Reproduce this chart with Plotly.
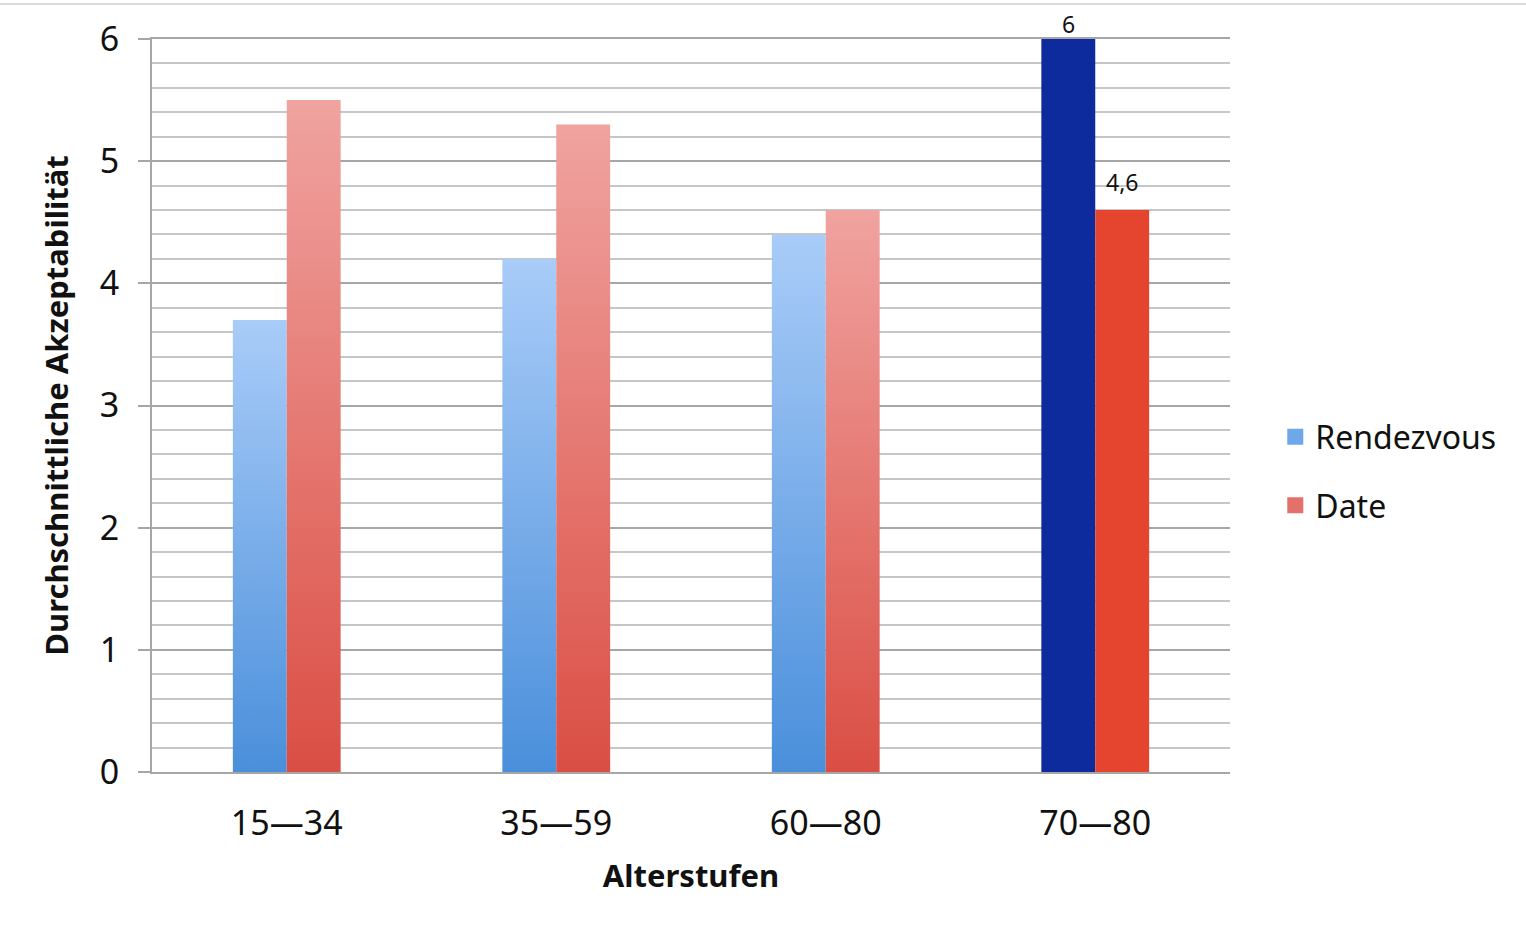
import plotly.graph_objects as go

# Mean acceptability per age group
age_groups = ["15—34", "35—59", "60—80", "70—80"]
rendezvous = [3.7, 4.2, 4.4, 6.0]
date = [5.5, 5.3, 4.6, 4.6]
rendezvous_labels = ["", "", "", "6"]
date_labels = ["", "", "", "4,6"]
y_ticks = [0, 1, 2, 3, 4, 5, 6]

# Last group is drawn in solid, saturated colours
solid_group = [False, False, False, True]

BAR_W = 0.2
FONT = "Noto Sans"
GRID = "#a6a6a6"

series = [
    dict(name="Rendezvous", values=rendezvous, labels=rendezvous_labels, side=-1,
         grad=[[0, "#4a8fdb"], [1, "#a9ccf8"]], solid="#0d2b9c", swatch="#6ea7ea",
         label_shift=15),
    dict(name="Date", values=date, labels=date_labels, side=1,
         grad=[[0, "#da4e44"], [1, "#f0a3a0"]], solid="#e5452f", swatch="#e4706a",
         label_shift=28),
]

fig = go.Figure()
annotations = []

for s in series:
    for i, v in enumerate(s["values"]):
        x0 = i if s["side"] > 0 else i - BAR_W
        x1 = x0 + BAR_W
        trace = dict(
            x=[x0, x0, x1, x1, x0],
            y=[0, v, v, 0, 0],
            mode="lines",
            fill="toself",
            line=dict(width=0),
            name=s["name"],
            legendgroup=s["name"],
            showlegend=False,
            hoveron="fills",
            text=f"{s['name']}: {v}",
            hoverinfo="text",
        )
        if solid_group[i]:
            trace["fillcolor"] = s["solid"]
        else:
            trace["fillgradient"] = dict(type="vertical", colorscale=s["grad"])
        fig.add_trace(go.Scatter(**trace))

        if s["labels"][i]:
            annotations.append(dict(
                x=i + s["side"] * BAR_W / 2, y=v, xref="x", yref="y",
                text=s["labels"][i], showarrow=False, yshift=s["label_shift"],
                yanchor="middle",
                font=dict(family=FONT, size=23, color="#111111"),
            ))

    # legend entry with a square swatch
    fig.add_trace(go.Scatter(
        x=[None], y=[None], mode="markers", name=s["name"], legendgroup=s["name"],
        marker=dict(symbol="square", size=20, color=s["swatch"]),
    ))

# thin frame line along the top edge of the page
frame_shapes = [
    dict(type="line", xref="paper", yref="paper",
         x0=-152 / 1078, x1=1374 / 1078, y0=1 + 35 / 733, y1=1 + 35 / 733,
         line=dict(color="#dcdcdc", width=2)),
]

fig.update_layout(
    width=1526,
    height=926,
    margin=dict(l=152, r=296, t=39, b=154, autoexpand=False),
    paper_bgcolor="white",
    plot_bgcolor="white",
    font=dict(family=FONT, color="#111111"),
    annotations=annotations,
    shapes=frame_shapes,
    legend=dict(
        x=1.042, xanchor="left", y=0.41, yanchor="middle",
        font=dict(family=FONT, size=32, color="#111111"),
        tracegroupgap=24,
        itemwidth=30,
        bgcolor="rgba(0,0,0,0)",
    ),
    xaxis=dict(
        range=[-0.5, len(age_groups) - 0.5],
        tickvals=list(range(len(age_groups))),
        ticktext=age_groups,
        tickfont=dict(family=FONT, size=34, color="#111111"),
        ticklabelstandoff=20,
        showgrid=False,
        zeroline=False,
        showline=True,
        mirror=True,
        linecolor=GRID,
        linewidth=2,
        ticks="",
        title=dict(text="<b>Alterstufen</b>", font=dict(family=FONT, size=31, color="#111111"),
                   standoff=22),
        fixedrange=True,
    ),
    yaxis=dict(
        range=[0, 6],
        tickvals=y_ticks,
        tickfont=dict(family=FONT, size=34, color="#111111"),
        ticks="outside",
        ticklen=12,
        tickwidth=2,
        tickcolor=GRID,
        ticklabelstandoff=12,
        showgrid=True,
        gridcolor=GRID,
        gridwidth=2,
        zeroline=False,
        showline=True,
        linecolor=GRID,
        linewidth=2,
        minor=dict(dtick=0.2, showgrid=True, gridcolor="#c6c6c6", gridwidth=1.5),
        title=dict(text="<b>Durchschnittliche Akzeptabilität</b>",
                   font=dict(family=FONT, size=31, color="#111111"), standoff=22),
        fixedrange=True,
    ),
)

fig.write_html("out.html")
